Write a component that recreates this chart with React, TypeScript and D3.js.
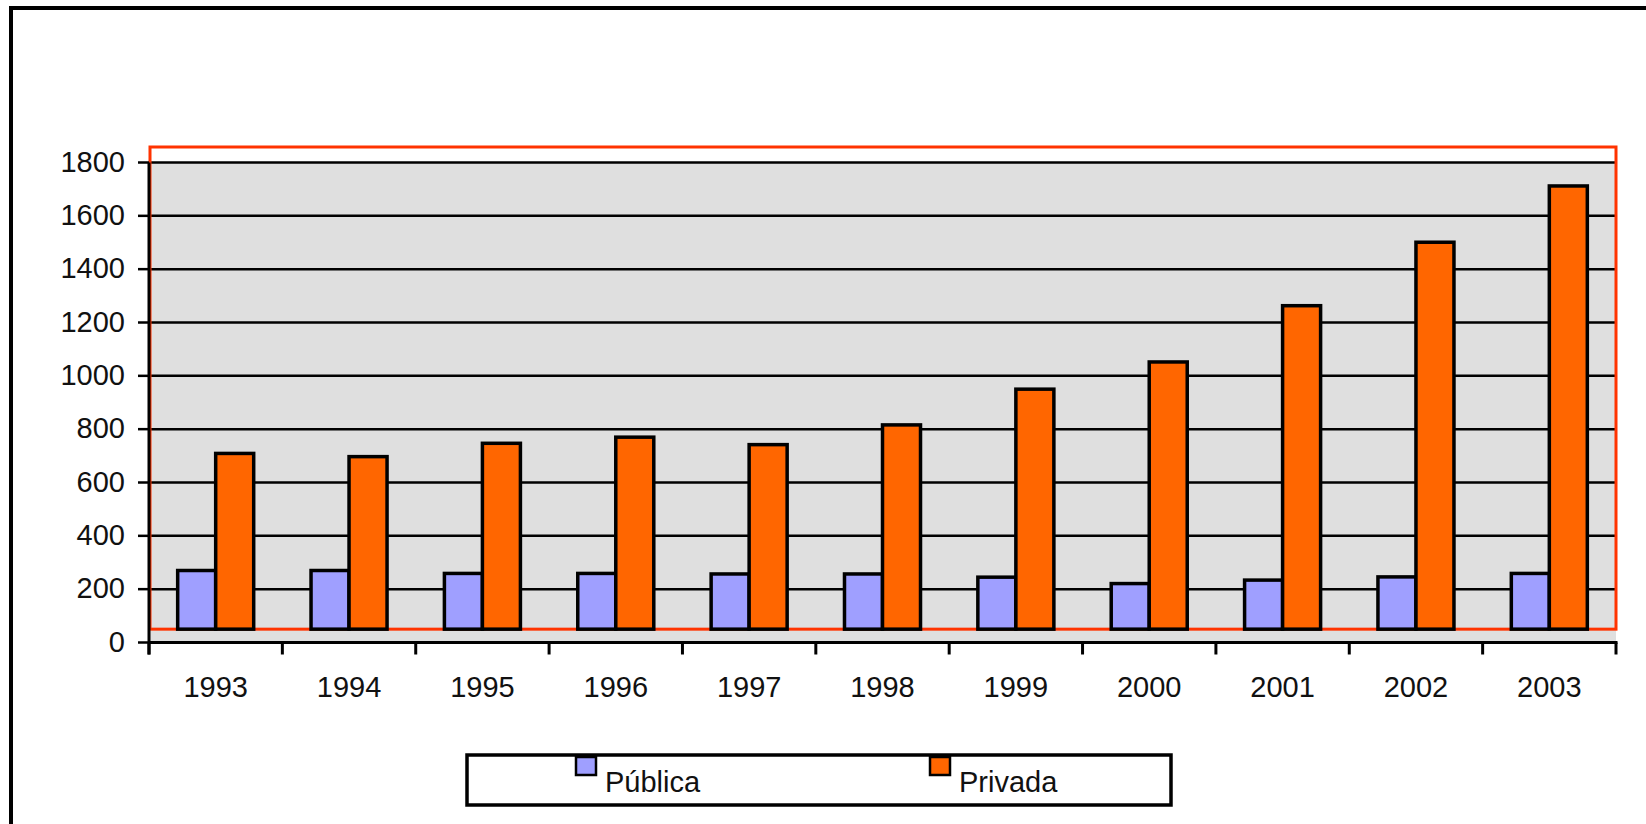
import React, { useRef, useEffect } from 'react';
import * as d3 from 'd3';

const years = ['1993', '1994', '1995', '1996', '1997', '1998', '1999', '2000', '2001', '2002', '2003'];
const publica = [270, 270, 259, 259, 257, 257, 245, 221, 234, 246, 259];
const privada = [709, 697, 747, 770, 742, 816, 950, 1052, 1263, 1501, 1712];
const yTicks = [0, 200, 400, 600, 800, 1000, 1200, 1400, 1600, 1800];
const seriesNames = ['Pública', 'Privada'];
const seriesColors = ['#9f9fff', '#ff6600'];

const W = 1646;
const H = 824;
const FONT = '"Liberation Sans", Arial, sans-serif';

const App = () => {
  const ref = useRef<SVGGElement>(null);

  useEffect(() => {
    const g = d3.select(ref.current);
    g.selectAll('*').remove();

    const left = 149;
    const right = 1616;
    const baseValue = 50;

    const y = d3.scaleLinear().domain([0, 1800]).range([642.5, 162.5]);
    const x = d3.scaleBand().domain(years).range([left, right]).padding(0);
    const groupW = x.bandwidth() * 0.57;
    const xs = d3.scaleBand().domain(seriesNames).range([0, groupW]).padding(0);

    // outer frame (cropped at right and bottom)
    g.append('line').attr('x1', 9).attr('x2', W).attr('y1', 8).attr('y2', 8)
      .attr('stroke', '#000').attr('stroke-width', 4);
    g.append('line').attr('x1', 11).attr('x2', 11).attr('y1', 6).attr('y2', H)
      .attr('stroke', '#000').attr('stroke-width', 4);

    // plot background
    g.append('rect')
      .attr('x', left).attr('y', y(1800))
      .attr('width', right - left).attr('height', y(0) - y(1800))
      .attr('fill', '#dfdfdf');

    // grid lines
    g.selectAll('line.grid')
      .data(yTicks.filter(d => d > 0))
      .enter()
      .append('line')
      .attr('class', 'grid')
      .attr('x1', left).attr('x2', right)
      .attr('y1', d => y(d)).attr('y2', d => y(d))
      .attr('stroke', '#000').attr('stroke-width', 2.5);

    // red plot-area border
    g.append('rect')
      .attr('x', left + 1).attr('y', 147)
      .attr('width', right - left - 1).attr('height', y(baseValue) - 147)
      .attr('fill', 'none').attr('stroke', '#ff3300').attr('stroke-width', 3);

    // bars
    const rows = years.map((yr, i) => ({ yr, vals: [publica[i], privada[i]] }));
    const groups = g.selectAll('g.grp')
      .data(rows)
      .enter()
      .append('g')
      .attr('class', 'grp')
      .attr('transform', d => `translate(${(x(d.yr) as number) + (x.bandwidth() - groupW) / 2},0)`);

    groups.selectAll('rect')
      .data(d => d.vals.map((v, k) => ({ name: seriesNames[k], v, k })))
      .enter()
      .append('rect')
      .attr('x', d => xs(d.name) as number)
      .attr('y', d => y(d.v))
      .attr('width', xs.bandwidth())
      .attr('height', d => y(baseValue) - y(d.v))
      .attr('fill', d => seriesColors[d.k])
      .attr('stroke', '#000')
      .attr('stroke-width', 3.5);

    // y axis
    g.append('line').attr('x1', left).attr('x2', left).attr('y1', y(1800)).attr('y2', y(0) + 12)
      .attr('stroke', '#000').attr('stroke-width', 3);
    g.selectAll('line.ytick')
      .data(yTicks)
      .enter()
      .append('line')
      .attr('class', 'ytick')
      .attr('x1', left - 11).attr('x2', left)
      .attr('y1', d => y(d)).attr('y2', d => y(d))
      .attr('stroke', '#000').attr('stroke-width', 2.5);
    g.selectAll('text.ylab')
      .data(yTicks)
      .enter()
      .append('text')
      .attr('class', 'ylab')
      .attr('x', 125)
      .attr('y', d => y(d) + 9)
      .attr('text-anchor', 'end')
      .attr('font-family', FONT)
      .attr('font-size', 29)
      .attr('fill', '#111')
      .text(d => d);

    // x axis
    g.append('line').attr('x1', left).attr('x2', right + 1.5).attr('y1', y(0)).attr('y2', y(0))
      .attr('stroke', '#000').attr('stroke-width', 3);
    const edges = years.map(d => x(d) as number).concat([right]);
    g.selectAll('line.xtick')
      .data(edges)
      .enter()
      .append('line')
      .attr('class', 'xtick')
      .attr('x1', d => d).attr('x2', d => d)
      .attr('y1', y(0)).attr('y2', y(0) + 12)
      .attr('stroke', '#000').attr('stroke-width', 3);
    g.selectAll('text.xlab')
      .data(years)
      .enter()
      .append('text')
      .attr('class', 'xlab')
      .attr('x', d => (x(d) as number) + x.bandwidth() / 2)
      .attr('y', 697)
      .attr('text-anchor', 'middle')
      .attr('font-family', FONT)
      .attr('font-size', 29)
      .attr('fill', '#111')
      .text(d => d);

    // legend
    g.append('rect')
      .attr('x', 467).attr('y', 755).attr('width', 704).attr('height', 50)
      .attr('fill', '#fff').attr('stroke', '#000').attr('stroke-width', 3.5);
    const legendX = [576, 930];
    seriesNames.forEach((name, k) => {
      g.append('rect')
        .attr('x', legendX[k]).attr('y', 757).attr('width', 20).attr('height', 18)
        .attr('fill', seriesColors[k]).attr('stroke', '#000').attr('stroke-width', 2.5);
      g.append('text')
        .attr('x', legendX[k] + 29).attr('y', 792)
        .attr('font-family', FONT)
        .attr('font-size', 29)
        .attr('fill', '#111')
        .text(name);
    });
  }, []);

  return (
    <svg width={W} height={H} style={{ position: 'absolute', left: 0, top: 0, background: '#fff' }}>
      <g ref={ref} />
    </svg>
  );
};

export default App;
